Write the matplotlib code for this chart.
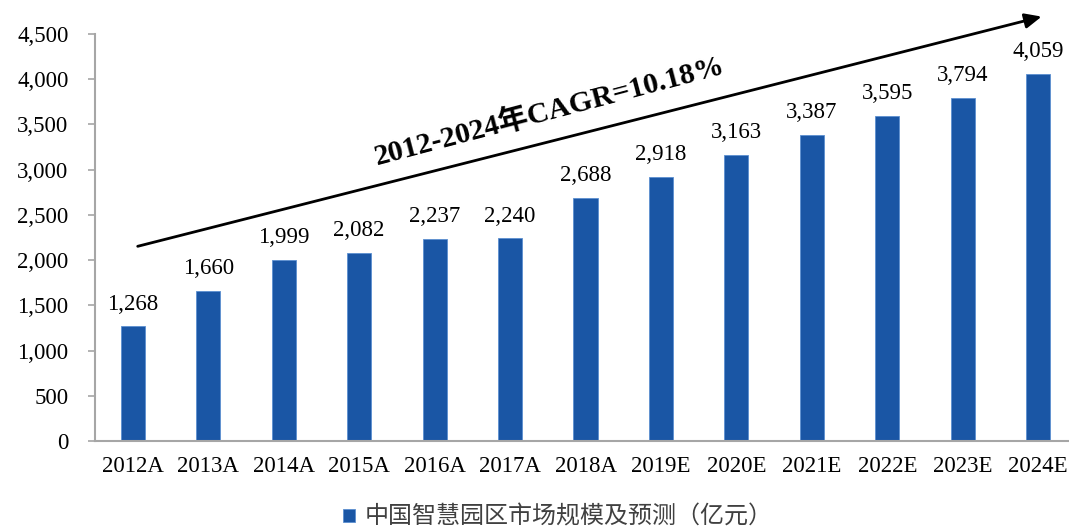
import matplotlib
matplotlib.use("Agg")
import matplotlib.pyplot as plt

years = ["2012A", "2013A", "2014A", "2015A", "2016A", "2017A", "2018A",
         "2019E", "2020E", "2021E", "2022E", "2023E", "2024E"]
market_size = [1268, 1660, 1999, 2082, 2237, 2240, 2688,
               2918, 3163, 3387, 3595, 3794, 4059]
y_ticks = [0, 500, 1000, 1500, 2000, 2500, 3000, 3500, 4000, 4500]
legend_label = "中国智慧园区市场规模及预测（亿元）"
cagr_label = "2012-2024年CAGR=10.18%"

serif = ["Liberation Serif", "Noto Sans CJK SC"]
cjk = ["Noto Sans CJK SC", "DejaVu Sans"]
plt.rcParams["font.family"] = serif

fig = plt.figure(figsize=(10.69, 5.31), dpi=100)
ax = fig.add_axes([95 / 1069, 90 / 531, 981 / 1069, 407 / 531])

x = list(range(len(years)))
bars = ax.bar(x, market_size, width=0.32, color="#1a56a5",
              edgecolor="#5b8fd0", linewidth=0.6, label=legend_label)

for xi, v in zip(x, market_size):
    ax.text(xi, v + 130, f"{v:,}", ha="center", va="bottom", fontsize=16.5)

ax.set_xlim(-0.5, len(years) - 0.5)
ax.set_ylim(0, 4500)
ax.set_yticks(y_ticks)
ax.set_yticklabels([f"{t:,}" for t in y_ticks], fontsize=16.5)
ax.set_xticks(x)
ax.set_xticklabels(years, fontsize=16.5)

for side in ["top", "right"]:
    ax.spines[side].set_visible(False)
for side in ["left", "bottom"]:
    ax.spines[side].set_color("#a6a6a6")
    ax.spines[side].set_linewidth(1.5)
ax.tick_params(axis="y", length=5, width=1.2, color="#a6a6a6", pad=14)
ax.tick_params(axis="x", length=0, pad=11)

# growth arrow
ax.annotate("", xy=(12.08, 4700), xytext=(0.03, 2145),
            arrowprops=dict(arrowstyle="-|>,head_length=1.0,head_width=0.45",
                            color="black", lw=2),
            annotation_clip=False)
ax.text(5.52, 3650, cagr_label, rotation=14.8, rotation_mode="anchor",
        ha="center", va="center", fontsize=21.5, fontweight="bold")

leg = fig.legend(handles=[bars], loc="center",
                 bbox_to_anchor=(0.522, 14 / 531), frameon=False,
                 prop={"family": cjk, "size": 17.3},
                 handlelength=0.5, handleheight=0.5, handletextpad=0.4)
for t in leg.get_texts():
    t.set_color("#404040")

fig.savefig("out.png", dpi=100)
